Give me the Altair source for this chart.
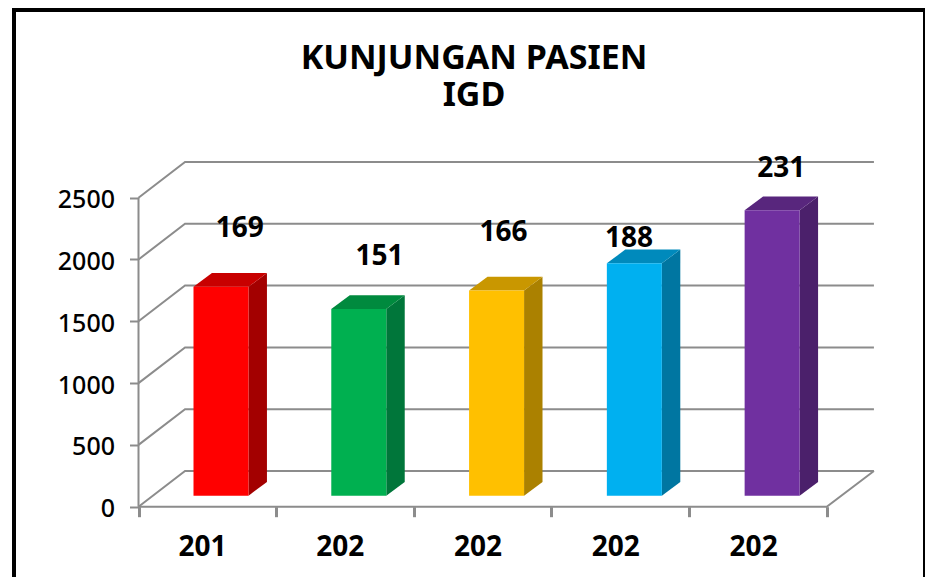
import altair as alt
import pandas as pd

# ---- chart content ----
title_lines = ["KUNJUNGAN PASIEN", "IGD"]
categories = ["201", "202", "202", "202", "202"]
values = [1690, 1510, 1660, 1880, 2310]
labels = ["169", "151", "166", "188", "231"]
levels = [0, 500, 1000, 1500, 2000, 2500]
front_colors = ["#ff0000", "#00b050", "#ffc000", "#00b0f0", "#7030a0"]
top_colors = ["#c80000", "#008a3e", "#c99700", "#008abc", "#58267d"]
side_colors = ["#a30000", "#00763a", "#ab8100", "#0076a1", "#4b206b"]

# ---- 3-D layout, in data units ----
FONT = "Noto Sans"
GREY = "#8c8c8c"
W, H = 917, 569
X_DOMAIN = [-0.9481, 5.7140]
Y_DOMAIN = [-568.8, 4034.8]
wall_dx, wall_dy, wall_end = 0.338, 289, 5.343
bar_left, bar_w, bar_dx, bar_dy, bar_base = 0.3996, 0.3996, 0.134, 111, 89
bar_step = 1.001
label_x_shift = [0.735, 0.75, 0.65, 0.56, 0.665]
label_y_shift = [464, 422, 464, 198, 334]
cat_x_shift, cat_y = 0.465, -334

x_scale = alt.Scale(domain=X_DOMAIN, range=[0, W], nice=False, zero=False)
y_scale = alt.Scale(domain=Y_DOMAIN, range=[H, 0], nice=False, zero=False)
x_axis = alt.Axis(
    orient="bottom", offset=-70.3, values=list(range(6)), labels=False, title=None,
    domain=False, grid=False, tickColor=GREY, tickWidth=3, tickSize=10)
y_axis = alt.Axis(
    orient="left", offset=-130.5, values=levels, title=None, domain=False, grid=False,
    tickColor=GREY, tickWidth=2, tickSize=9, labelPadding=15, labelFont=FONT,
    labelFontSize=25, labelColor="#000000", labelFontWeight=500, format="d", labelOffset=2)
X = alt.X("x:Q", scale=x_scale, axis=x_axis)
Y = alt.Y("y:Q", scale=y_scale, axis=y_axis, stack=None)

# walls and floor
grid_rows = []
for lv in levels:
    grid_rows += [
        {"lv": lv, "o": 0, "x": 0, "y": lv},
        {"lv": lv, "o": 1, "x": wall_dx, "y": lv + wall_dy},
        {"lv": lv, "o": 2, "x": wall_end, "y": lv + wall_dy},
    ]
grid_rows += [
    {"lv": -1, "o": 0, "x": 0, "y": 0},
    {"lv": -1, "o": 1, "x": 5, "y": 0},
    {"lv": -1, "o": 2, "x": wall_end, "y": wall_dy},
    {"lv": -2, "o": 0, "x": 0, "y": 0},
    {"lv": -2, "o": 1, "x": 0, "y": levels[-1]},
]
grid = alt.Chart(pd.DataFrame(grid_rows)).mark_line(
    color=GREY, strokeWidth=2, clip=False
).encode(x=X, y=Y, detail="lv:N", order="o:Q")

# bars
front_rows, label_rows, cat_rows, face_layers = [], [], [], []
for i, v in enumerate(values):
    x0 = bar_left + i * bar_step
    x1 = x0 + bar_w
    t = v + bar_base
    front_rows.append({"x": x0, "x2": x1, "y": bar_base, "y2": t, "c": front_colors[i]})
    side_rows = [
        {"x": x1, "y": bar_base, "y2": t},
        {"x": x1 + bar_dx, "y": bar_base + bar_dy, "y2": t + bar_dy},
    ]
    top_rows = [
        {"x": x0, "y": t, "y2": t},
        {"x": x0 + bar_dx, "y": t, "y2": t + bar_dy},
        {"x": x1, "y": t, "y2": t + bar_dy},
        {"x": x1 + bar_dx, "y": t + bar_dy, "y2": t + bar_dy},
    ]
    face_layers.append(alt.Chart(pd.DataFrame(side_rows)).mark_area(
        color=side_colors[i], interpolate="linear", orient="vertical", opacity=1
    ).encode(x=X, y=Y, y2=alt.Y2("y2")))
    face_layers.append(alt.Chart(pd.DataFrame(top_rows)).mark_area(
        color=top_colors[i], interpolate="linear", orient="vertical", opacity=1
    ).encode(x=X, y=Y, y2=alt.Y2("y2")))
    label_rows.append({"x": i * bar_step + label_x_shift[i], "y": t + label_y_shift[i], "t": labels[i]})
    cat_rows.append({"x": i * bar_step + cat_x_shift, "y": cat_y, "t": categories[i]})

fill = alt.Color("c:N", scale=None, legend=None)
front = alt.Chart(pd.DataFrame(front_rows)).mark_rect().encode(
    x=X, x2="x2:Q", y=Y, y2="y2:Q", color=fill)

text_style = dict(font=FONT, fontWeight="bold", fontSize=28, color="#000000",
                  align="center", baseline="middle")
value_text = alt.Chart(pd.DataFrame(label_rows)).mark_text(**text_style).encode(x=X, y=Y, text="t:N")
cat_text = alt.Chart(pd.DataFrame(cat_rows)).mark_text(**text_style).encode(x=X, y=Y, text="t:N")

# outer frame
frame_df = pd.DataFrame({"k": [0]})
frame = alt.layer(
    alt.Chart(frame_df).mark_rule(color="#000000", strokeWidth=4).encode(
        x=alt.value(4), x2=alt.value(W), y=alt.value(2)),
    alt.Chart(frame_df).mark_rule(color="#000000", strokeWidth=4).encode(
        x=alt.value(6), y=alt.value(0), y2=alt.value(H)),
    alt.Chart(frame_df).mark_rule(color="#000000", strokeWidth=4).encode(
        x=alt.value(W), y=alt.value(0), y2=alt.value(H)),
)

chart = alt.layer(grid, *face_layers, front, value_text, cat_text, frame).properties(
    width=W,
    height=H,
    padding=0,
    autosize=alt.AutoSizeParams(type="none"),
    background="#ffffff",
    title=alt.TitleParams(
        text=title_lines, font=FONT, fontSize=34, fontWeight="bold", color="#000000",
        lineHeight=37, anchor="middle", dx=7.5, offset=-107),
).configure_view(stroke=None)

chart.save("out.html", embed_options={"renderer": "svg", "actions": False})
